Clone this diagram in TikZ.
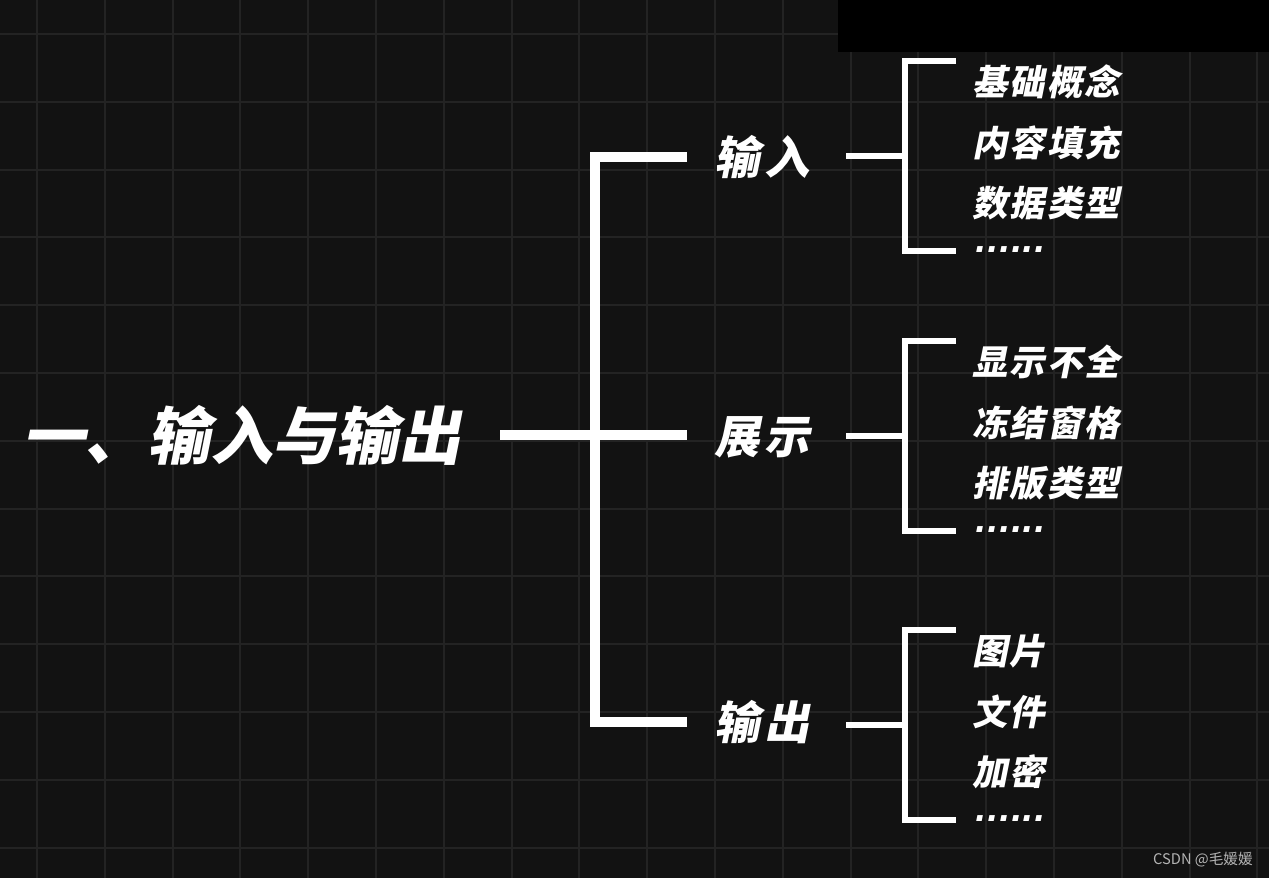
\documentclass[tikz,border=0pt]{standalone}
\usepackage{fontspec}
\newfontfamily\cjk{Noto Sans CJK SC}
\newfontfamily\cjkbi[UprightFont={* Black}, FakeSlant=0.2]{Noto Sans CJK SC}
\newfontfamily\dotfont[UprightFont={* Bold}, FakeSlant=0.2]{DejaVu Sans}
\definecolor{bgdark}{HTML}{121212}
\definecolor{gridgray}{HTML}{232323}
\definecolor{markgray}{HTML}{B4B4B4}
\begin{document}
\begin{tikzpicture}[x=0.75pt, y=-0.75pt,
  every node/.style={inner sep=0pt, text=white},
  title/.style={anchor=west, font=\cjkbi\fontsize{47}{50}\selectfont},
  branch/.style={anchor=west, font=\cjkbi\addfontfeatures{LetterSpace=11}\fontsize{34}{40}\selectfont},
  leaf/.style={anchor=west, font=\cjkbi\addfontfeatures{LetterSpace=6}\fontsize{26.5}{32}\selectfont},
  dots/.style={anchor=base west, font=\dotfont\fontsize{23.5}{26}\selectfont},
  trunk/.style={draw=white, line width=7.8pt, line join=miter},
  twig/.style={draw=white, line width=4.5pt, line join=miter},
  gridline/.style={draw=gridgray, line width=1.5pt}]
  % 1. 背景与网格
  \useasboundingbox (0,0) rectangle (1269,878);
  \fill[bgdark] (0,0) rectangle (1269,878);
  \foreach \i in {0,...,18}
    \draw[gridline] ({37+67.8*\i},0) -- ({37+67.8*\i},878);
  \foreach \j in {0,...,12}
    \draw[gridline] (0,{34+67.8*\j}) -- (1269,{34+67.8*\j});
  \fill[black] (838,0) rectangle (1269,52);

  % 2. 主标题与三个分支
  \node[title] (title) at (22,435) {一、输入与输出};
  \node[branch] (in) at (714,157) {输入};
  \node[branch] (show) at (714,437) {展示};
  \node[branch] (out) at (714,722) {输出};

  % 3. 主括号
  \coordinate (root) at (500,435);
  \coordinate (top) at (595,157);
  \coordinate (bot) at (595,722);
  \coordinate (in-j) at (687,157);
  \coordinate (show-j) at (687,435);
  \coordinate (out-j) at (687,722);
  \draw[trunk] (in-j) -- (top) -- (bot) -- (out-j);
  \draw[trunk] (root) -- (show-j);

  % 4. 子括号与条目
  \foreach \g/\t/\a/\b/\c in {in/61/基础概念/内容填充/数据类型,
      show/341/显示不全/冻结窗格/排版类型, out/630/图片/文件/加密} {
    \coordinate (\g-s) at (846,{\t+95});
    \coordinate (\g-m) at (905,{\t+95});
    \coordinate (\g-t) at (956,\t);
    \coordinate (\g-tc) at (905,\t);
    \coordinate (\g-bc) at (905,{\t+190});
    \coordinate (\g-b) at (956,{\t+190});
    \draw[twig] (\g-s) -- (\g-m);
    \draw[twig] (\g-t) -- (\g-tc) -- (\g-bc) -- (\g-b);
    \node[leaf] (\g-1) at (972,{\t+21}) {\a};
    \node[leaf] (\g-2) at (972,{\t+82}) {\b};
    \node[leaf] (\g-3) at (972,{\t+142}) {\c};
    \node[dots] (\g-4) at (973,{\t+191}) {......};
  }

  % 5. 水印
  \node[anchor=east, text=markgray, font=\cjk\fontsize{11}{12}\selectfont]
    (mark) at (1253,860) {CSDN @毛媛媛};
\end{tikzpicture}
\end{document}
